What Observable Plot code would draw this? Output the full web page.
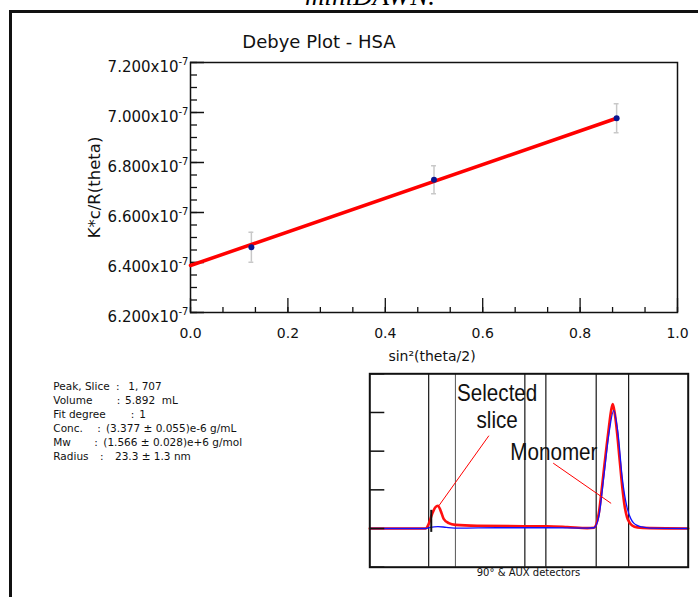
<!DOCTYPE html>
<html>
<head>
<meta charset="utf-8">
<script src="https://cdn.jsdelivr.net/npm/d3@7"></script>
<script src="https://cdn.jsdelivr.net/npm/@observablehq/plot@0.6"></script>
<style>
  body { margin: 0; background: #fff; }
  #page { position: relative; width: 698px; height: 597px; overflow: hidden; background: #fff; }
  #caption { position: absolute; left: 220px; width: 300px; top: -19px; line-height: 27px; text-align: center;
             font: italic 27px "Liberation Serif", serif; color: #000; white-space: nowrap; }
  #outer { position: absolute; left: 8.5px; top: 9.5px; right: -10px; bottom: -10px;
           border-left: 3px solid #111; border-top: 3px solid #111; }
  #main, #inset { position: absolute; }
  #main { left: 0; top: 0; }
  #inset { left: 360px; top: 360px; }
  .info { position: absolute; font: 10.5px "DejaVu Sans", sans-serif; color: #111; white-space: pre; line-height: 14px; }
</style>
</head>
<body>
<div id="page">
  <div id="caption">miniDAWN.</div>
  <div id="outer"></div>
  <div id="main"></div>
  <div id="inset"></div>
</div>
<script>
// ---------- Debye plot data (y in units of 1e-7) ----------
const angleX = [0.125, 0.5, 0.875];
const kcR = [6.461, 6.731, 6.977];
const kcRErr = [0.060, 0.056, 0.058];
const fitX = [0, 0.875];
const fitY = [6.388, 6.977];
const yTicks = [6.2, 6.4, 6.6, 6.8, 7.0, 7.2];
const xTicks = [0, 0.2, 0.4, 0.6, 0.8, 1.0];

// ---------- info text ----------
const infoLabels = ["Peak, Slice", "Volume", "Fit degree", "Conc.", "Mw", "Radius"];
const infoValues = ["1, 707", "5.892  mL", "1", "(3.377 \u00b1 0.055)e-6 g/mL", "(1.566 \u00b1 0.028)e+6 g/mol", "23.3 \u00b1 1.3 nm"];

// ---------- inset chromatogram (arbitrary units) ----------
const redX = [0, 10, 17.5, 18.5, 19.6, 20.6, 21.4, 22.2, 23.2, 24.8, 26.9, 33.7, 48.4, 55.7, 62, 68.3, 70.4, 71.9, 72.7, 73.5, 74.4, 75.1, 75.8, 76.3, 76.9, 77.7, 78.5, 79.3, 80.0, 80.8, 81.6, 82.4, 84, 88, 100];
const redY = [0, 0, 0, 0.12, 0.38, 0.55, 0.59, 0.47, 0.25, 0.14, 0.095, 0.07, 0.06, 0.06, 0.04, 0.01, 0.02, 0.38, 0.9, 1.5, 2.15, 2.62, 3.05, 3.22, 3.0, 2.45, 1.75, 1.07, 0.6, 0.29, 0.15, 0.08, 0.03, 0.01, 0];
const blueX = [0, 17.5, 19, 21.4, 24, 28, 40, 55, 68.3, 70.4, 71.9, 73.5, 75.1, 76.6, 77.9, 79.3, 80.8, 82, 82.9, 84, 85.5, 88, 100];
const blueY = [0, 0, 0.03, 0.05, 0.03, 0.01, 0.02, 0.02, 0.01, 0.02, 0.3, 1.35, 2.45, 3.05, 2.5, 1.3, 0.54, 0.25, 0.14, 0.08, 0.04, 0.01, 0];
const dividerX = [18.5, 26.9, 48.7, 55.3, 71.1, 81.3];
const dividerColor = ["#000", "#666", "#000", "#000", "#000", "#000"];
const sliceX = 19.3;
const insetTicks = [-1, 0, 1, 2, 3, 4];
const annotationText = ["Selected", "slice", "Monomer"];
const annotationX = [40.0, 40.0, 57.8];
const annotationY = [3.49, 2.79, 1.97];
const pointers = [
  {x1: 37.4, y1: 2.40, x2: 21.7, y2: 0.59},
  {x1: 57.6, y1: 1.69, x2: 75.8, y2: 0.65}
];

// ---------- main plot ----------
const pts = angleX.map((x, i) => ({x, y: kcR[i], e: kcRErr[i]}));
const fit = fitX.map((x, i) => ({x, y: fitY[i]}));
const frameW = 487, frameH = 250;
const yMinor = d3.range(6.2, 7.2001, 0.05).map(v => +v.toFixed(3));
const xMinor = d3.range(0, 1.0001, 0.2 / 3);

const main = Plot.plot({
  width: 698, height: 380,
  marginLeft: 190, marginRight: 21, marginTop: 62, marginBottom: 68,
  style: {fontFamily: "DejaVu Sans, sans-serif", background: "transparent", color: "#111", overflow: "visible"},
  x: {domain: [0, 1]},
  y: {domain: [6.2, 7.2]},
  marks: [
    Plot.tickY(yMinor, {y: d => d, insetRight: frameW - 7, stroke: "#111", strokeWidth: 1.3}),
    Plot.tickY(yTicks, {y: d => d, insetRight: frameW - 14, stroke: "#111", strokeWidth: 1.5}),
    Plot.tickX(xMinor, {x: d => d, insetTop: frameH - 5, stroke: "#111", strokeWidth: 1.3}),
    Plot.tickX(xTicks, {x: d => d, insetTop: frameH - 14, stroke: "#111", strokeWidth: 1.3}),
    Plot.axisY(yTicks, {tickSize: 0, tickPadding: 2, fontSize: 15, dy: 5, tickFormat: d => d.toFixed(3) + "x10", label: null}),
    Plot.axisX(xTicks, {tickSize: 0, tickPadding: 16, fontSize: 14, tickFormat: d => d.toFixed(1), label: null}),
    Plot.frame({stroke: "#111", strokeWidth: 1.5}),
    Plot.ruleX(pts, {x: "x", y1: d => d.y - d.e, y2: d => d.y + d.e, stroke: "#c8c8c8", strokeWidth: 1.5}),
    Plot.ruleY(pts, {y: d => d.y - d.e, x1: d => d.x - 0.005, x2: d => d.x + 0.005, stroke: "#c8c8c8", strokeWidth: 1.5}),
    Plot.ruleY(pts, {y: d => d.y + d.e, x1: d => d.x - 0.005, x2: d => d.x + 0.005, stroke: "#c8c8c8", strokeWidth: 1.5}),
    Plot.line(fit, {x: "x", y: "y", stroke: "#ff0000", strokeWidth: 3.5}),
    Plot.dot(pts, {x: "x", y: "y", r: 3, fill: "#0a1690", stroke: "none"}),
    Plot.text(["Debye Plot - HSA"], {frameAnchor: "top", lineAnchor: "middle", textAnchor: "middle", text: d => d, dx: -115, dy: -20, fontSize: 18, fill: "#111"}),
    Plot.text(["sin\u00b2(theta/2)"], {frameAnchor: "bottom", lineAnchor: "middle", textAnchor: "middle", text: d => d, dx: -2, dy: 44, fontSize: 14, fill: "#111"}),
    Plot.text(["K*c/R(theta)"], {frameAnchor: "left", lineAnchor: "middle", textAnchor: "middle", text: d => d, rotate: -90, dx: -96, fontSize: 16.5, fill: "#111"})
  ]
});
// superscript exponent on y tick labels
d3.select(main).selectAll('g[aria-label="y-axis tick label"] text')
  .append("tspan").attr("dy", -7).attr("font-size", 10).text("-7");
document.getElementById("main").appendChild(main);

// ---------- info block ----------
const colonX = [116, 116.7, 130.7, 97.3, 94.3, 100];
const valueX = [128.3, 125, 139.3, 106, 103.3, 115];
const page = document.getElementById("page");
infoLabels.forEach((lab, i) => {
  const top = 378.7 + i * 14;
  [[53.3, lab], [colonX[i], ":"], [valueX[i], infoValues[i]]].forEach(([x, t]) => {
    const el = document.createElement("div");
    el.className = "info";
    el.style.left = x + "px";
    el.style.top = top + "px";
    el.textContent = t;
    page.appendChild(el);
  });
});

// ---------- inset ----------
const red = redX.map((x, i) => ({x, y: redY[i]}));
const blue = blueX.map((x, i) => ({x, y: blueY[i]}));
const annotations = annotationText.map((text, i) => ({text, x: annotationX[i], y: annotationY[i]}));
const insetFrameW = 318.4;
const inset = Plot.plot({
  width: 338, height: 237,
  marginLeft: 9.3, marginTop: 13.3, marginRight: 10.3, marginBottom: 30.3,
  style: {fontFamily: "DejaVu Sans, sans-serif", background: "transparent", color: "#111", overflow: "visible"},
  x: {domain: [0, 100], axis: null},
  y: {domain: [-1, 4], axis: null},
  marks: [
    Plot.ruleX(dividerX, {x: d => d, stroke: (d, i) => dividerColor[i], strokeWidth: 1.1}),
    Plot.line(red, {x: "x", y: "y", stroke: "#ff1010", strokeWidth: 2.6, curve: "monotone-x"}),
    Plot.line(blue, {x: "x", y: "y", stroke: "#1010ff", strokeWidth: 1.3, curve: "monotone-x"}),
    Plot.ruleX([sliceX], {x: d => d, y1: -0.1, y2: 0.47, stroke: "#111", strokeWidth: 2}),
    Plot.link(pointers, {x1: "x1", y1: "y1", x2: "x2", y2: "y2", stroke: "#ff0000", strokeWidth: 1}),
    Plot.text(annotations, {x: "x", y: "y", text: "text", fontSize: 24, fontFamily: "Liberation Sans, Arial, sans-serif", fill: "#111"}),
    Plot.tickY(insetTicks, {y: d => d, insetRight: insetFrameW - 15, stroke: "#111", strokeWidth: 1.5}),
    Plot.frame({stroke: "#111", strokeWidth: 2}),
    Plot.text(["90\u00b0 & AUX detectors"], {frameAnchor: "bottom", lineAnchor: "middle", textAnchor: "middle", text: d => d, dx: -0.5, dy: 6, fontSize: 10, fill: "#111"})
  ]
});
document.getElementById("inset").appendChild(inset);
// condense annotation lettering (the reference uses a narrow face)
inset.querySelectorAll("text").forEach(t => {
  if (annotationText.includes(t.textContent)) {
    const len = t.getComputedTextLength();
    if (len > 0) {
      t.setAttribute("textLength", (len * 0.86).toFixed(1));
      t.setAttribute("lengthAdjust", "spacingAndGlyphs");
    }
  }
});
</script>
</body>
</html>
